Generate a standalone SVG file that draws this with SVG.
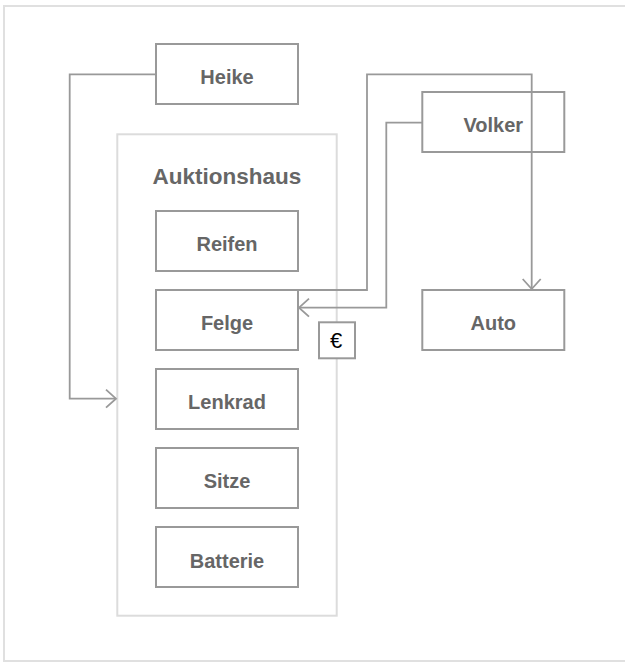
<svg xmlns="http://www.w3.org/2000/svg" width="625" height="662" viewBox="0 0 625 662">
<defs>
<style>
.frame{fill:none;stroke:#e0e0e0;stroke-width:2}
.container{fill:none;stroke:#dcdcdc;stroke-width:2}
.box{fill:none;stroke:#999;stroke-width:2}
.lbl{font-family:"Liberation Sans",Arial,sans-serif;font-weight:bold;font-size:20px;fill:#666;text-anchor:middle}
.title{font-size:22.5px}
.euro{font-family:"Liberation Sans",Arial,sans-serif;font-size:22px;fill:#000;text-anchor:middle}
.conn{fill:none;stroke:#999;stroke-width:1.8}
</style>
<marker id="arr" markerUnits="userSpaceOnUse" markerWidth="24" markerHeight="24" viewBox="-12 -12 24 24" refX="0" refY="0" orient="auto" overflow="visible">
<path d="M-10,-9 L0,0 L-10,9" fill="none" stroke="#999" stroke-width="1.8"/>
</marker>
</defs>
<rect class="frame" x="4" y="6" width="640" height="655"/>
<g id="auktionshaus">
<rect class="container" x="117.3" y="134.3" width="219.4" height="481.4"/>
<text class="lbl title" x="227" y="183.5">Auktionshaus</text>
</g>
<g id="heike">
<rect class="box" x="156" y="44" width="142" height="60"/>
<text class="lbl" x="227" y="84">Heike</text>
</g>
<g id="volker">
<rect class="box" x="422.3" y="92" width="142" height="60"/>
<text class="lbl" x="493.3" y="132">Volker</text>
</g>
<g id="auto">
<rect class="box" x="422.3" y="290" width="142" height="60"/>
<text class="lbl" x="493.3" y="330">Auto</text>
</g>
<g id="reifen">
<rect class="box" x="156" y="211" width="142" height="60"/>
<text class="lbl" x="227" y="251">Reifen</text>
</g>
<g id="felge">
<rect class="box" x="156" y="290" width="142" height="60"/>
<text class="lbl" x="227" y="330">Felge</text>
</g>
<g id="lenkrad">
<rect class="box" x="156" y="369" width="142" height="60"/>
<text class="lbl" x="227" y="409">Lenkrad</text>
</g>
<g id="sitze">
<rect class="box" x="156" y="448" width="142" height="60"/>
<text class="lbl" x="227" y="488">Sitze</text>
</g>
<g id="batterie">
<rect class="box" x="156" y="527" width="142" height="60"/>
<text class="lbl" x="227" y="567.5">Batterie</text>
</g>
<g id="euro">
<rect x="319" y="322.3" width="36" height="36" fill="#fff" stroke="#999" stroke-width="2"/>
<text class="euro" x="336" y="347.5">€</text>
</g>
<g id="connectors">
<path class="conn" d="M156,74.3 H69.7 V398.7 H116" marker-end="url(#arr)"/>
<path class="conn" d="M298,290 H367 V74.3 H531.7 V289" marker-end="url(#arr)"/>
<path class="conn" d="M422.3,122.7 H386.3 V307.7 H299" marker-end="url(#arr)"/>
</g>
</svg>
